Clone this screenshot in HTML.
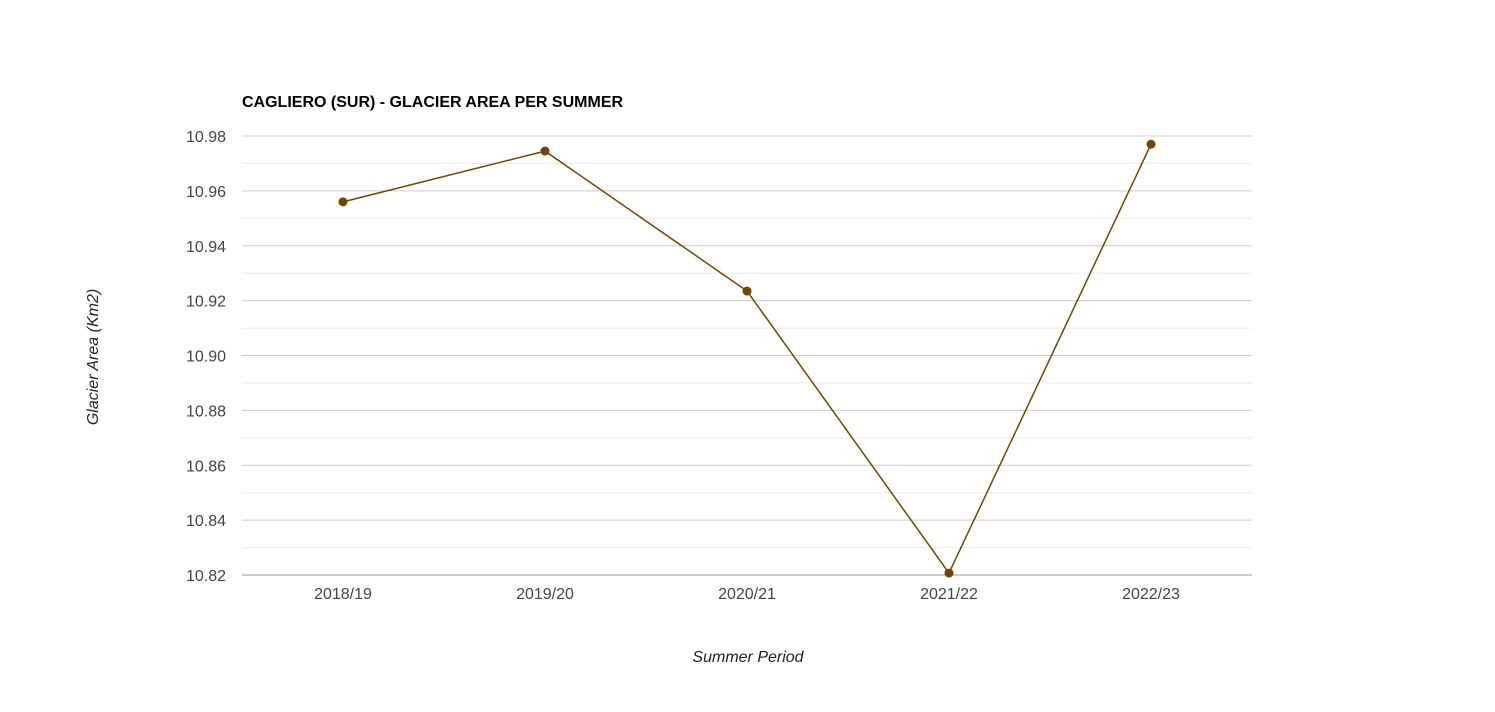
<!DOCTYPE html>
<html><head><meta charset="utf-8"><style>
html,body{margin:0;padding:0;background:#fff;}
svg{display:block;font-family:"Liberation Sans",Arial,sans-serif;}
</style></head><body>
<svg id="chart" width="1495" height="712">
<text x="242" y="107" font-size="16" font-weight="bold" fill="#000">CAGLIERO (SUR) - GLACIER AREA PER SUMMER</text>
<g id="grid"></g><g id="yticks"></g><g id="xticks"></g><g id="series"></g>
<text transform="translate(98,357) rotate(-90)" text-anchor="middle" font-size="16" font-style="italic" fill="#222">Glacier Area (Km2)</text>
<text x="748" y="662" text-anchor="middle" font-size="16" font-style="italic" fill="#222">Summer Period</text>
</svg>
<script>
const categories=["2018/19","2019/20","2020/21","2021/22","2022/23"];
const values=[10.956,10.9745,10.9235,10.8207,10.977];
const yTicks=[10.82,10.84,10.86,10.88,10.90,10.92,10.94,10.96,10.98];
const yMin=10.82,yMax=10.98,plotTop=136,plotBottom=575,plotLeft=242,plotRight=1252;
const NS="http://www.w3.org/2000/svg";
function yS(v){return plotBottom-(v-yMin)/(yMax-yMin)*(plotBottom-plotTop);}
function xS(i){const bw=(plotRight-plotLeft)/categories.length;return plotLeft+bw*(i+0.5);}
function mk(tag,attrs,parent){const e=document.createElementNS(NS,tag);for(const k in attrs)e.setAttribute(k,attrs[k]);parent.appendChild(e);return e;}
const grid=document.getElementById('grid'),yt=document.getElementById('yticks'),xt=document.getElementById('xticks'),ser=document.getElementById('series');
for(let i=0;i<yTicks.length;i++){
 const v=yTicks[i];
 if(i<yTicks.length-1){
  const m=mk('line',{x1:plotLeft,x2:plotRight,y1:yS(v+0.01),y2:yS(v+0.01),stroke:'#ebebeb','stroke-width':1},grid);
  
  
 }
 const l=mk('line',{x1:plotLeft,x2:plotRight,y1:yS(v),y2:yS(v),stroke:i==0?'#999':'#ccc','stroke-width':1},grid);
 
 
 const t=mk('text',{x:226,y:yS(v)+6,'text-anchor':'end','font-size':16,fill:'#444'},yt);
 t.textContent=v.toFixed(2);
 
 
}
categories.forEach((c,i)=>{
 const t=mk('text',{x:xS(i),y:599,'text-anchor':'middle','font-size':16,fill:'#444'},xt);
 t.textContent=c;
 
 
});
const pts=values.map((v,i)=>xS(i)+','+yS(v)).join(' ');
const pl=mk('polyline',{points:pts,fill:'none',stroke:'#734600','stroke-width':1.5},ser);


values.forEach((v,i)=>{
 const c=mk('circle',{cx:xS(i),cy:yS(v),r:4.5,fill:'#734600'},ser);
 
 
});
</script>
</body></html>
